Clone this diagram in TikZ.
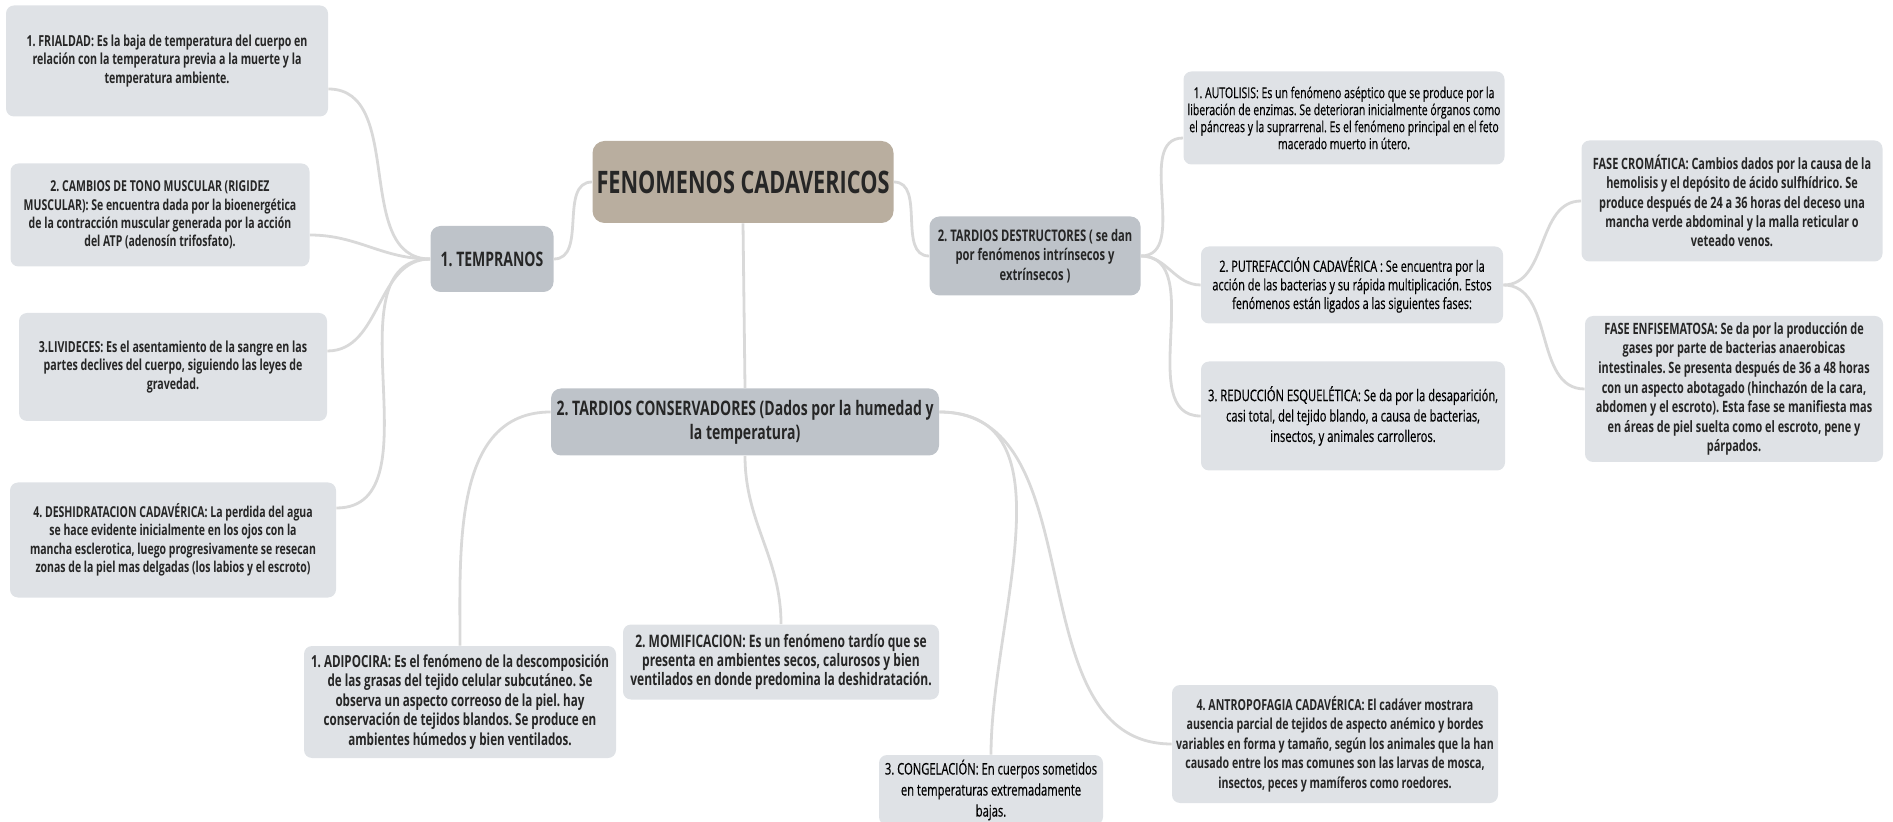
\documentclass[tikz,border=0pt]{standalone}
\usepackage{fontspec}
\setmainfont{Open Sans}[FakeStretch=0.7]
\definecolor{leafgray}{HTML}{DFE2E6}
\definecolor{branchgray}{HTML}{BEC3C9}
\definecolor{rootbrown}{HTML}{B9AE9F}
\definecolor{linkgray}{HTML}{D9D9D9}
\newcommand{\fs}[2]{\fontsize{#1}{#2}\selectfont}
\newcommand{\medium}{\addfontfeatures{FakeBold=0.4}}

\begin{document}
\frenchspacing
\begin{tikzpicture}[x=0.5pt,y=-0.5pt,
			every node/.style={
				rectangle,
				rounded corners=4pt,
				align=center,
				inner sep=2pt,
				text=black!85,
			},
			boxsize/.style 2 args={minimum width=#1*0.5pt, minimum height=#2*0.5pt},
			leaf/.style={fill=leafgray},
			branch/.style={fill=branchgray, rounded corners=5pt},
			root/.style={fill=rootbrown, rounded corners=6pt},
			every edge/.style={
				draw=linkgray,
				line width=1.4pt,
			}]
		\useasboundingbox (0,0) rectangle (1893,822);
		% centre and branches
		\node[root, boxsize={295}{82}, font=\bfseries\fs{15.5}{18}](central) at (743,182) {FENOMENOS CADAVERICOS};
		\node[branch, boxsize={123}{66}, font=\bfseries\fs{10}{12}](tempr) at (492,259) {1. TEMPRANOS};
		\node[branch, boxsize={211}{79}, font=\bfseries\fs{8}{9.6}](destr) at (1035,256) {2. TARDIOS DESTRUCTORES ( se dan\\ por fenómenos intrínsecos y\\ extrínsecos )};
		\node[branch, boxsize={388}{67}, font=\bfseries\fs{10}{12}](conserv) at (745,422) {2. TARDIOS CONSERVADORES (Dados por la humedad y\\ la temperatura)};
		% tempranos
		\node[leaf, boxsize={322}{111}, font=\bfseries\fs{7.6}{9.2}](fria) at (167,61) {1. FRIALDAD: Es la baja de temperatura del cuerpo en\\ relación con la temperatura previa a la muerte y la\\ temperatura ambiente.};
		\node[leaf, boxsize={299}{103}, font=\bfseries\fs{7.5}{9.2}](cambios) at (160,215) {2. CAMBIOS DE TONO MUSCULAR (RIGIDEZ\\ MUSCULAR): Se encuentra dada por la bioenergética\\ de la contracción muscular generada por la acción\\ del ATP (adenosín trifosfato).};
		\node[leaf, boxsize={308}{108}, font=\bfseries\fs{7.6}{9.2}](livid) at (173,367) {3.LIVIDECES: Es el asentamiento de la sangre en las\\ partes declives del cuerpo, siguiendo las leyes de\\ gravedad.};
		\node[leaf, boxsize={326}{115}, font=\bfseries\fs{7.5}{9.2}](deshid) at (173,540) {4. DESHIDRATACION CADAVÉRICA: La perdida del agua\\ se hace evidente inicialmente en los ojos con la\\ mancha esclerotica, luego progresivamente se resecan\\ zonas de la piel mas delgadas (los labios y el escroto)};
		% tardios destructores
		\node[leaf, boxsize={321}{93}, text=black, font=\medium\fs{7.5}{8.5}](autol) at (1344,118) {1. AUTOLISIS: Es un fenómeno aséptico que se produce por la\\ liberación de enzimas. Se deterioran inicialmente órganos como\\ el páncreas y la suprarrenal. Es el fenómeno principal en el feto\\ macerado muerto in útero.};
		\node[leaf, boxsize={302}{77}, text=black, font=\medium\fs{7.8}{9.3}](putref) at (1352,285) {2. PUTREFACCIÓN CADAVÉRICA : Se encuentra por la\\ acción de las bacterias y su rápida multiplicación. Estos\\ fenómenos están ligados a las siguientes fases:};
		\node[leaf, boxsize={304}{109}, text=black, font=\medium\fs{8}{10.2}](reduc) at (1353,416) {3. REDUCCIÓN ESQUELÉTICA: Se da por la desaparición,\\ casi total, del tejido blando, a causa de bacterias,\\ insectos, y animales carrolleros.};
		\node[leaf, boxsize={301}{121}, font=\bfseries\fs{7.8}{9.6}](cromat) at (1732,201) {FASE CROMÁTICA: Cambios dados por la causa de la\\ hemolisis y el depósito de ácido sulfhídrico. Se\\ produce después de 24 a 36 horas del deceso una\\ mancha verde abdominal y la malla reticular o\\ veteado venos.};
		\node[leaf, boxsize={298}{146}, font=\bfseries\fs{7.8}{9.8}](enfis) at (1734,389) {FASE ENFISEMATOSA: Se da por la producción de\\ gases por parte de bacterias anaerobicas\\ intestinales. Se presenta después de 36 a 48 horas\\ con un aspecto abotagado (hinchazón de la cara,\\ abdomen y el escroto). Esta fase se manifiesta mas\\ en áreas de piel suelta como el escroto, pene y\\ párpados.};
		% tardios conservadores
		\node[leaf, boxsize={312}{112}, font=\bfseries\fs{8.3}{9.7}](adipo) at (460,702) {1. ADIPOCIRA: Es el fenómeno de la descomposición\\ de las grasas del tejido celular subcutáneo. Se\\ observa un aspecto correoso de la piel. hay\\ conservación de tejidos blandos. Se produce en\\ ambientes húmedos y bien ventilados.};
		\node[leaf, boxsize={316}{75}, font=\bfseries\fs{8.6}{9.4}](momif) at (781,662) {2. MOMIFICACION: Es un fenómeno tardío que se\\ presenta en ambientes secos, calurosos y bien\\ ventilados en donde predomina la deshidratación.};
		\node[leaf, boxsize={224}{70}, text=black, font=\medium\fs{8}{10.5}](congel) at (991,790) {3. CONGELACIÓN: En cuerpos sometidos\\ en temperaturas extremadamente\\ bajas.};
		\node[leaf, boxsize={326}{118}, font=\bfseries\fs{7.6}{9.7}](antro) at (1335,744) {4. ANTROPOFAGIA CADAVÉRICA: El cadáver mostrara\\ ausencia parcial de tejidos de aspecto anémico y bordes\\ variables en forma y tamaño, según los animales que la han\\ causado entre los mas comunes son las larvas de mosca,\\ insectos, peces y mamíferos como roedores.};
		% links
		\path (central.west) edge[out=180,in=0] (tempr.east);
		\path (central.east) edge[out=0,in=180] (destr.west);
		\path (central.south) edge (conserv.north);
		\path (tempr.west) edge[out=180,in=0] ([yshift=-14pt]fria.east);
		\path (tempr.west) edge[out=180,in=0] ([yshift=-10pt]cambios.east);
		\path (tempr.west) edge[out=180,in=0] ([yshift=8pt]livid.east);
		\path (tempr.west) edge[out=180,in=0] ([yshift=16pt]deshid.east);
		\path (destr.east) edge[out=0,in=180] ([yshift=-10pt]autol.west);
		\path (destr.east) edge[out=0,in=180] (putref.west);
		\path (destr.east) edge[out=0,in=180] (reduc.west);
		\path (putref.east) edge[out=0,in=180] (cromat.west);
		\path (putref.east) edge[out=0,in=180] (enfis.west);
		\path ([yshift=5pt]conserv.west) edge[out=180,in=90] (adipo.north);
		\path (conserv.south) edge[out=-90,in=90] (momif.north);
		\path ([yshift=5pt]conserv.east) edge[out=0,in=90] (congel.north);
		\path ([yshift=5pt]conserv.east) edge[out=0,in=180] (antro.west);
	\end{tikzpicture}
\end{document}
